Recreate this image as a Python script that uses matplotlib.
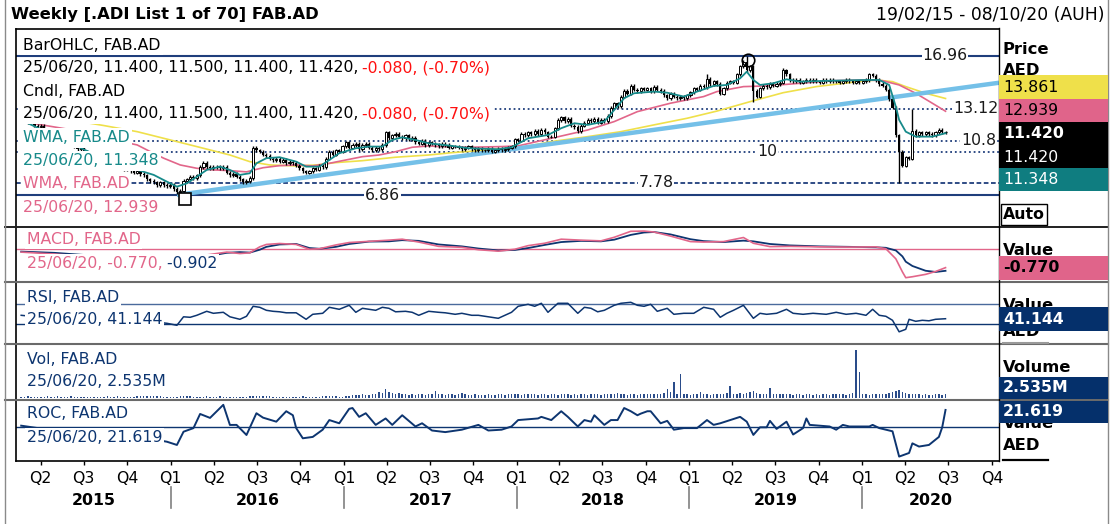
import numpy as np
import matplotlib
matplotlib.use('Agg')
import matplotlib.pyplot as plt
import matplotlib.dates as mdates
import matplotlib.transforms as mtrans
from matplotlib.patches import Rectangle
from matplotlib.lines import Line2D

plt.rcParams['font.family'] = ['DejaVu Sans']

W, H = 1116, 524
FS = 11.3

# ---- data (weekly, first week 19/02/2015) ----
start = '2015-02-19'
closes = [12.4, 12.3, 12.1, 12.2, 11.9, 11.8, 11.9, 11.6, 11.4, 11.5,
          11.2, 11.0, 11.1, 10.8, 10.6, 10.7, 10.4, 10.2, 10.3, 10.0,
          9.8, 9.9, 9.6, 9.4, 9.5, 9.2, 9.3, 9.0, 8.9, 9.1,
          8.8, 8.7, 8.9, 8.6, 8.5, 8.6, 8.4, 8.3, 8.0, 7.9,
          7.8, 7.6, 7.8, 7.6, 7.5, 7.6, 7.3, 7.1, 7.2, 7.9,
          8.0, 8.2, 8.1, 8.3, 8.9, 9.2, 8.9, 8.8, 8.9, 8.9,
          8.8, 8.9, 8.5, 8.3, 8.4, 8.2, 8.0, 7.8, 7.9, 8.1,
          10.3, 10.1, 10.0, 9.8, 9.7, 9.5, 9.4, 9.5, 9.3, 9.4,
          9.2, 9.3, 9.2, 9.0, 8.8, 8.6, 8.5, 8.6, 8.8, 8.7,
          9.0, 8.9, 9.5, 10.0, 9.8, 10.1, 10.0, 10.4, 10.7, 10.3,
          10.5, 10.6, 10.2, 10.5, 10.6, 10.3, 10.1, 10.3, 10.2, 10.5,
          11.4, 11.0, 11.2, 11.3, 11.1, 11.0, 11.2, 10.9, 11.0, 10.7,
          10.6, 10.8, 10.5, 10.7, 10.6, 10.5, 10.4, 10.6, 10.5, 10.3,
          10.4, 10.4, 10.3, 10.2, 10.3, 10.4, 10.2, 10.1, 10.2, 10.1,
          10.1, 10.2, 10.0, 10.1, 10.2, 10.1, 10.2, 10.3, 10.4, 10.9,
          10.8, 11.3, 11.2, 11.4, 11.3, 11.5, 11.3, 11.6, 11.4, 11.1,
          11.1, 11.7, 12.3, 12.5, 12.2, 12.4, 11.9, 11.8, 11.5, 11.9,
          12.1, 12.3, 12.2, 12.4, 12.1, 12.3, 12.2, 12.6, 13.2, 13.5,
          13.3, 14.0, 14.4, 14.2, 14.8, 14.5, 14.4, 14.6, 14.5, 14.6,
          14.4, 14.7, 14.5, 14.4, 14.1, 13.9, 14.2, 14.0, 13.9, 14.0,
          13.9, 14.1, 14.3, 14.6, 14.5, 14.8, 14.7, 15.3, 14.9, 15.1,
          14.9, 14.2, 14.6, 15.0, 15.1, 15.0, 15.6, 16.2, 16.5, 15.9,
          16.2, 14.4, 14.0, 14.6, 14.8, 14.7, 14.9, 14.8, 14.9, 15.0,
          15.9, 15.6, 15.2, 15.1, 15.2, 15.0, 15.1, 15.2, 15.1, 15.2,
          15.1, 15.0, 15.2, 15.1, 15.2, 15.1, 15.1, 15.0, 15.1, 15.2,
          15.1, 15.0, 15.1, 15.0, 15.1, 15.2, 15.6, 15.5, 15.2, 14.9,
          14.8, 14.5, 13.8, 13.2, 11.2, 10.0, 9.0, 9.6, 9.5, 11.5,
          11.2, 11.4, 11.3, 11.4, 11.3, 11.2, 11.4, 11.6, 11.40, 11.42]
hi_wk = [207, 219, 230, 269]
hi_val = [15.6, 16.96, 16.1, 13.12]
lo_wk = [48, 221, 265]
lo_val = [6.86, 13.6, 7.78]

teal_wk = [0, 15, 25, 35, 40, 43, 47, 50, 53, 56, 60, 63, 66, 69, 71, 74, 78, 83, 86, 90,
           93, 96, 101, 105, 109, 112, 115, 119, 123, 130, 135, 144, 148, 153, 159, 163, 167, 171, 176, 179,
           182, 185, 191, 195, 200, 204, 209, 213, 217, 219, 221, 223, 227, 231, 235, 245, 255, 259, 262, 264,
           265, 267, 270, 275, 279]
teal_val = [12.3, 10.6, 9.5, 8.7, 8.33, 7.96, 7.48, 7.72, 8.2, 8.69, 8.93, 8.69, 8.33, 8.45, 9.17, 9.54, 9.61, 9.29, 8.93, 8.93,
            9.41, 9.9, 10.26, 10.38, 10.38, 10.86, 11.05, 10.86, 10.62, 10.43, 10.26, 10.19, 10.33, 10.98, 11.22, 11.71, 12.07, 11.95, 12.19, 13.03,
            13.88, 14.24, 14.36, 14.28, 14.0, 14.36, 14.77, 14.84, 15.32, 15.8, 15.2, 14.84, 14.96, 15.25, 15.08, 15.15, 15.2, 15.2, 14.84, 13.27,
            12.31, 11.46, 11.1, 11.1, 11.348]
pink_wk = [0, 15, 25, 35, 39, 43, 48, 53, 58, 63, 68, 73, 78, 83, 88, 93, 98, 103, 108, 113,
           118, 123, 126, 135, 145, 150, 160, 171, 179, 186, 196, 206, 210, 218, 225, 235, 245, 255, 260, 265,
           270, 275, 279]
pink_val = [12.2, 11.6, 11.0, 10.5, 10.01, 9.54, 9.05, 8.81, 8.69, 8.64, 8.55, 8.85, 9.0, 9.05, 8.98, 9.17, 9.41, 9.65, 9.77, 10.01,
            10.33, 10.43, 10.38, 10.33, 10.38, 10.43, 10.98, 11.58, 12.19, 12.91, 13.52, 14.0, 14.36, 14.72, 14.77, 14.96, 15.15, 15.2, 15.15, 14.84,
            14.24, 13.52, 12.939]
yellow_wk = [0, 15, 25, 35, 43, 53, 63, 69, 75, 83, 89, 95, 103, 113, 123, 130, 141, 151, 160, 171,
             181, 191, 201, 210, 220, 230, 240, 250, 258, 263, 267, 273, 279]
yellow_val = [12.6, 12.3, 11.9, 11.46, 10.98, 10.38, 9.77, 9.29, 9.05, 8.98, 9.05, 9.22, 9.36, 9.61, 9.77, 9.94, 10.14, 10.33, 10.74, 11.1,
              11.46, 11.95, 12.43, 12.95, 13.63, 14.28, 14.72, 15.01, 15.2, 15.08, 14.72, 14.24, 13.861]

levels_solid = [16.96, 6.86]
levels_dotted = [13.12, 10.8, 10]
levels_dashed = [7.78]
trend_dates = ['2016-01-14', '2020-10-16']
trend_vals = [6.88, 15.0]
circle_pt = ('2019-05-04', 16.68)
square_pt = ('2016-02-01', 6.62)

macd_wk = [0, 10, 20, 30, 40, 50, 58, 62, 66, 69,
           72, 74, 78, 83, 87, 90, 95, 99, 105, 111,
           115, 120, 126, 133, 138, 144, 149, 153, 158, 163,
           169, 175, 179, 184, 188, 191, 196, 202, 206, 212,
           218, 221, 226, 232, 241, 250, 258, 261, 264, 266,
           267, 269, 273, 276, 279]
macd_val = [-0.12, -0.2, -0.3, -0.4, -0.45, -0.35, -0.2, -0.12, -0.18, -0.15,
            0.1, 0.2, 0.24, 0.2, 0.0, 0.02, 0.18, 0.28, 0.33, 0.38,
            0.42, 0.3, 0.12, 0.08, -0.02, -0.08, 0.0, 0.15, 0.25, 0.42,
            0.38, 0.35, 0.5, 0.75, 0.76, 0.72, 0.55, 0.32, 0.3, 0.32,
            0.49, 0.25, 0.11, 0.12, 0.1, 0.09, 0.1, 0.02, -0.4, -0.95,
            -1.19, -1.15, -1.05, -0.93, -0.77]
signal_val = [-0.1, -0.15, -0.25, -0.35, -0.42, -0.38, -0.25, -0.15, -0.12, -0.14,
              -0.02, 0.1, 0.2, 0.22, 0.05, 0.02, 0.1, 0.22, 0.32, 0.33,
              0.38, 0.35, 0.2, 0.12, 0.03, -0.05, -0.03, 0.05, 0.18, 0.3,
              0.35, 0.33, 0.4, 0.6, 0.7, 0.72, 0.62, 0.42, 0.34, 0.3,
              0.36, 0.33, 0.22, 0.16, 0.12, 0.1, 0.08, 0.06, -0.05, -0.3,
              -0.52, -0.7, -0.9, -0.95, -0.902]

rsi_wk = [0, 6, 12, 18, 24, 30, 36, 40, 44, 47,
          49, 51, 53, 56, 58, 61, 63, 66, 68, 70,
          72, 74, 76, 78, 80, 83, 86, 88, 91, 93,
          96, 99, 101, 103, 105, 107, 109, 111, 113, 116,
          118, 120, 123, 126, 128, 131, 133, 136, 138, 141,
          144, 146, 148, 150, 153, 155, 157, 159, 162, 165,
          168, 170, 172, 174, 176, 179, 181, 184, 186, 188,
          190, 192, 195, 197, 200, 203, 206, 209, 211, 213,
          215, 218, 221, 223, 225, 228, 231, 233, 236, 239,
          243, 246, 249, 252, 255, 257, 259, 261, 263, 265,
          267, 268, 270, 272, 274, 276, 279]
rsi_val = [48, 44, 41, 43, 39, 37, 36, 35, 32, 28,
           45, 44, 48, 56, 52, 54, 45, 40, 46, 66,
           64, 58, 56, 55, 53, 53, 40, 50, 52, 64,
           60, 68, 54, 62, 60, 58, 64, 62, 55, 56,
           54, 48, 56, 54, 53, 50, 52, 48, 48, 45,
           42, 48, 54, 66, 70, 66, 72, 54, 72, 72,
           52, 64, 62, 55, 58, 68, 72, 74, 68, 66,
           70, 56, 62, 50, 52, 52, 64, 60, 44, 52,
           58, 68, 42, 52, 50, 52, 60, 52, 50, 52,
           50, 54, 50, 52, 48, 60, 48, 46, 38, 15,
           20, 40, 36, 38, 37, 40, 41.144]

volume = [0.5, 0.5, 1.6, 0.5, 0.5, 0.5, 0.5, 0.5, 1.6, 0.5, 0.5, 1.6, 0.5, 0.5, 0.5, 1.6, 0.5, 0.5, 0.5, 0.5,
          0.5, 0.5, 0.5, 0.5, 0.5, 0.5, 1.6, 0.5, 0.5, 1.6, 0.5, 0.5, 0.5, 0.5, 0.5, 1.6, 1.4, 1.6, 1.5, 1.6,
          1.4, 1.6, 1.5, 0.5, 0.5, 0.5, 0.5, 0.5, 1.6, 1.5, 1.6, 1.4, 0.5, 0.5, 0.5, 0.5, 1.6, 0.5, 0.5, 0.5,
          1.6, 0.5, 0.5, 0.5, 0.5, 0.5, 0.5, 0.5, 0.5, 1.6, 1.5, 1.6, 1.4, 1.6, 1.5, 1.6, 0.5, 0.5, 0.5, 0.5,
          0.5, 0.5, 0.5, 0.5, 0.5, 1.6, 0.5, 0.5, 0.5, 0.5, 0.5, 1.6, 1.5, 1.6, 1.4, 1.6, 0.5, 0.5, 1.6, 1.5,
          2.0, 2.2, 2.0, 2.4, 2.1, 2.3, 2.6, 3.0, 4.0, 3.6, 6.0, 4.2, 3.6, 2.8, 3.2, 2.4, 2.8, 2.2, 2.6, 2.3,
          2.4, 2.6, 2.2, 3.0, 2.8, 5.0, 2.6, 2.4, 2.2, 2.6, 2.4, 2.2, 2.8, 3.6, 2.4, 2.2, 2.0, 2.4, 2.2, 2.0,
          2.2, 2.4, 2.0, 2.2, 2.4, 2.6, 2.2, 2.4, 2.6, 2.8, 2.4, 2.2, 2.6, 2.4, 2.8, 2.4, 2.2, 2.6, 2.4, 2.2,
          2.4, 2.6, 2.2, 2.8, 2.4, 2.6, 2.2, 2.4, 2.2, 2.6, 2.4, 2.2, 2.6, 2.8, 2.4, 2.2, 2.4, 2.6, 2.8, 2.4,
          3.6, 2.6, 2.4, 2.2, 2.6, 2.4, 2.2, 2.6, 2.4, 2.8, 2.4, 2.6, 2.8, 3.0, 3.4, 6.5, 4.0, 11.5, 2.6, 17.0,
          3.0, 2.6, 2.2, 2.4, 2.8, 4.3, 2.6, 2.4, 2.2, 2.6, 2.4, 2.8, 3.0, 3.6, 8.5, 3.0, 2.8, 3.4, 3.0, 3.6,
          4.0, 5.0, 3.4, 2.8, 2.6, 3.0, 7.0, 3.0, 2.6, 2.8, 2.4, 2.6, 2.4, 2.2, 2.6, 2.4, 2.2, 2.4, 2.6, 2.2,
          2.4, 2.2, 2.6, 2.4, 2.2, 2.4, 2.8, 2.6, 2.4, 2.2, 2.6, 3.4, 34.0, 18.0, 2.6, 2.4, 2.2, 2.8, 2.6, 2.4,
          2.6, 3.0, 3.4, 3.8, 4.6, 5.8, 4.4, 3.2, 3.0, 2.6, 2.4, 2.6, 2.2, 2.4, 2.0, 2.2, 2.4, 2.6, 2.2, 2.535]

roc_wk = [0, 10, 20, 30, 40, 44, 47, 49, 52, 54,
          57, 61, 63, 65, 68, 71, 73, 77, 80, 82,
          83, 85, 88, 91, 93, 96, 99, 100, 102, 104,
          107, 110, 112, 115, 119, 121, 124, 128, 133, 138,
          141, 145, 148, 150, 156, 157, 160, 163, 165, 168,
          170, 172, 173, 175, 176, 178, 180, 182, 184, 186,
          187, 189, 190, 193, 195, 197, 200, 204, 207, 209,
          211, 214, 217, 219, 221, 223, 225, 226, 228, 231,
          233, 236, 237, 238, 244, 246, 248, 250, 256, 257,
          259, 263, 265, 268, 269, 271, 274, 277, 278, 279]
roc_val = [2, -4, -8, -12, -15, -18, -22, -5.5, -1, 16.6,
           11.7, 28, 2.9, 3, -9.6, 17.5, 12, 7, 20, 15,
           -1, -13.7, -12, -3, 9, 5, 23, 24, 13, 17.5,
           3, 11, 3, 15, 1, 5, -4, -6, -3, 3,
           -4, -3, 1, 9, 11, 13, 9, 20, 13, 1,
           9, 7, 15, 7, 3, 9, 9, 24, 20, 15,
           17, 20, 20, 5, 8, -3, -1, -1, 9, 3,
           5, 9, 13, 7, -9.5, 0, 0, 8, -2, 7,
           -9, -1, 11, 3, 1, -3, 3, 1, 1, 3,
           -1, -5, -36.5, -32, -20, -24, -22, -12, 0, 21.619]

# ---- colours ----
NAVY = '#0d3570'
TEAL = '#178a8a'
PINK = '#e2668a'
YEL = '#efe04a'
TREND = '#74c0e8'
LVL = '#1f3e7c'

t0 = mdates.date2num(np.datetime64(start))
def wk(idx):
    return t0 + 7 * np.asarray(idx, dtype=float)

def dn(s):
    return mdates.date2num(np.datetime64(s))

c = np.array(closes)
o = np.r_[c[0], c[:-1]]
hi = np.maximum(o, c) + 0.12
lo = np.minimum(o, c) - 0.12
hi[hi_wk] = hi_val
lo[lo_wk] = lo_val
tw = wk(np.arange(len(c)))

fig = plt.figure(figsize=(W / 100, H / 100), dpi=100)

def box(x0, y0, x1, y1):
    return [x0 / W, 1 - y1 / H, (x1 - x0) / W, (y1 - y0) / H]

ax_p = fig.add_axes(box(16, 29, 999, 227))
ax_m = fig.add_axes(box(16, 227, 999, 282))
ax_r = fig.add_axes(box(16, 282, 999, 344))
ax_v = fig.add_axes(box(16, 344, 999, 400))
ax_c = fig.add_axes(box(16, 400, 999, 461))
xl = (dn('2015-02-08'), dn('2020-10-16'))
for ax in (ax_p, ax_m, ax_r, ax_v, ax_c):
    ax.set_xlim(*xl)
    for s in ax.spines.values():
        s.set_visible(False)
    ax.spines['left'].set_visible(True)
    ax.spines['left'].set_linewidth(1.2)
    ax.tick_params(left=False, labelleft=False, bottom=False, labelbottom=False)

# price panel
ax_p.set_ylim(4.56, 18.89)
for lv in levels_solid:
    ax_p.axhline(lv, color=LVL, lw=1.5, zorder=1)
for lv in levels_dotted:
    ax_p.axhline(lv, color=LVL, lw=1.3, ls=(0, (1, 1.6)), zorder=1)
for lv in levels_dashed:
    ax_p.axhline(lv, color=LVL, lw=1.3, ls=(0, (2.6, 1.4)), zorder=1)
bt = mtrans.blended_transform_factory(ax_p.transAxes, ax_p.transData)
lbl_pos = {16.96: (0.945, 'center'), 13.12: (0.999, 'right'), 10.8: (0.997, 'right'),
           10: (0.764, 'center'), 7.78: (0.651, 'center'), 6.86: (0.373, 'center')}
for lv, (xf, ha) in lbl_pos.items():
    ax_p.text(xf, lv, f'{lv:g}', transform=bt, ha=ha, va='center', fontsize=FS,
              color='#1a1a1a', zorder=6, bbox=dict(fc='white', ec='none', pad=0.6))

ax_p.plot([dn(d) for d in trend_dates], trend_vals, color=TREND, lw=3.2, zorder=3,
          solid_capstyle='butt')
ax_p.plot(wk(yellow_wk), yellow_val, color=YEL, lw=1.2, zorder=2)
ax_p.plot(wk(pink_wk), pink_val, color=PINK, lw=1.2, zorder=2)
ax_p.vlines(tw, lo, hi, color='black', lw=1.0, zorder=4)
up = c >= o
ax_p.bar(tw[up], (c - o)[up], bottom=o[up], width=4.6, facecolor='white',
         edgecolor='black', lw=0.7, zorder=5)
ax_p.bar(tw[~up], (o - c)[~up], bottom=c[~up], width=4.6, color='black', lw=0, zorder=5)
ax_p.plot(wk(teal_wk), teal_val, color=TEAL, lw=1.3, zorder=6)
ax_p.plot(dn(circle_pt[0]), circle_pt[1], 'o', ms=9, mfc='none', mec='black', mew=1.2, zorder=7)
ax_p.plot(dn(square_pt[0]), square_pt[1], 's', ms=8, mfc='white', mec='black', mew=1.2, zorder=7)

# MACD
ax_m.set_ylim(-1.37, 0.93)
ax_m.axhline(0, color=PINK, lw=1)
ax_m.plot(wk(macd_wk), signal_val, color=NAVY, lw=1.3)
ax_m.plot(wk(macd_wk), macd_val, color=PINK, lw=1.2)

# RSI
ax_r.set_ylim(-9.4, 114.6)
ax_r.axhline(70, color='#4a6a9c', lw=1)
ax_r.axhline(30, color=NAVY, lw=1)
ax_r.plot(wk(rsi_wk), rsi_val, color=NAVY, lw=1.1)

# Volume
ax_v.set_ylim(-1.5, 38)
ax_v.bar(tw, volume, width=3.0, color='#2a4c8a', lw=0)

# ROC
ax_c.set_ylim(-42, 34)
ax_c.axhline(0, color=NAVY, lw=1)
ax_c.plot(wk(roc_wk), roc_val, color=NAVY, lw=1.4)
qt = []
ql = []
for y in range(2015, 2021):
    for q, m in ((1, 1), (2, 4), (3, 7), (4, 10)):
        d = dn(f'{y}-{m:02d}-01')
        if xl[0] < d < xl[1]:
            qt.append(d)
            ql.append(f'Q{q}')
ax_c.set_xticks(qt)
ax_c.set_xticklabels(ql, fontsize=FS)
ax_c.tick_params(axis='x', bottom=True, labelbottom=True, length=3, width=1, pad=4)
bx = mtrans.blended_transform_factory(ax_c.transData, ax_c.transAxes)
edges = [xl[0]] + [dn(f'{y}-01-01') for y in range(2016, 2021)] + [xl[1]]
for k, y in enumerate(range(2015, 2021)):
    ax_c.text((edges[k] + edges[k + 1]) / 2, -0.64, str(y), transform=bx, ha='center',
              va='center', fontsize=FS, fontweight='bold')
for e in edges[1:-1]:
    ax_c.plot([e, e], [-0.43, -0.77], transform=bx, color='#808080', lw=1.2, clip_on=False)

# ---- frame lines ----
def hline(y, x0, x1, color, lw):
    fig.add_artist(Line2D([x0 / W, x1 / W], [1 - y / H] * 2, transform=fig.transFigure,
                          color=color, lw=lw, zorder=8))

def vline(x, y0, y1, color, lw):
    fig.add_artist(Line2D([x / W] * 2, [1 - y0 / H, 1 - y1 / H], transform=fig.transFigure,
                          color=color, lw=lw, zorder=8))

hline(28.5, 16, 999, 'black', 1.2)
hline(227, 5, 1108, '#202020', 1.4)
for yy in (282, 344, 400):
    hline(yy, 5, 1108, '#6a6a6a', 1.5)
hline(461, 16, 999, 'black', 1.2)
vline(999, 28, 461, 'black', 1.0)
vline(5, 0, 524, '#8a8a8a', 1.0)
vline(1108, 0, 524, '#8a8a8a', 1.0)

# ---- texts ----
def ftext(x, y, s, color='black', bg=True, z=9, pad=2.0, **kw):
    kw.setdefault('fontsize', FS)
    bb = dict(fc='white', ec='none', pad=pad) if bg else None
    return fig.text(x / W, 1 - y / H, s, color=color, ha=kw.pop('ha', 'left'), va='center',
                    bbox=bb, zorder=z, **kw)

renderer = fig.canvas.get_renderer()

def two_part(x, y, s1, c1, s2, c2, pad=2.0):
    t = ftext(x, y, s1, c1, pad=pad)
    ext = t.get_window_extent(renderer=renderer)
    # second part sits under the first so its box does not hide the comma
    ftext(ext.x1 - 1, y, s2, c2, pad=pad, z=8.9)

ftext(11, 15, 'Weekly [.ADI List 1 of 70] FAB.AD', bg=False, fontsize=11.8, fontweight='bold')
ftext(1104, 15, '19/02/15 - 08/10/20 (AUH)', bg=False, fontsize=12.4, ha='right')

row = '25/06/20, 11.400, 11.500, 11.400, 11.420,'
ftext(23, 45, 'BarOHLC, FAB.AD')
two_part(23, 68, row, 'black', ' -0.080, (-0.70%)', '#ff1010')
ftext(23, 91, 'Cndl, FAB.AD')
two_part(23, 114, row, 'black', ' -0.080, (-0.70%)', '#ff1010')
ftext(23, 138, 'WMA, FAB.AD', TEAL)
ftext(23, 161, '25/06/20, 11.348', TEAL)
ftext(23, 184, 'WMA, FAB.AD', PINK, pad=0.8)
ftext(23, 207, '25/06/20, 12.939', PINK, pad=0.8)

ftext(27, 240, 'MACD, FAB.AD', PINK, pad=1.2)
two_part(27, 263, '25/06/20, -0.770,', PINK, ' -0.902', NAVY, pad=1.2)
ftext(27, 298, 'RSI, FAB.AD', NAVY, pad=1.2)
ftext(27, 320, '25/06/20, 41.144', NAVY, pad=1.2)
ftext(27, 359, 'Vol, FAB.AD', NAVY, pad=1.2)
ftext(27, 382, '25/06/20, 2.535M', NAVY, pad=1.2)
ftext(27, 414, 'ROC, FAB.AD', NAVY, pad=1.2)
ftext(27, 437, '25/06/20, 21.619', NAVY, pad=1.2)

# right value column
def rect(y0, y1, color, x0=999.5, x1=1108, z=10, **kw):
    fig.add_artist(Rectangle((x0 / W, 1 - y1 / H), (x1 - x0) / W, (y1 - y0) / H,
                             transform=fig.transFigure, fc=color, zorder=z, **kw))

RX = 1003
ftext(RX, 49, 'Price', bg=False, z=9, fontweight='bold', fontsize=11.8)
ftext(RX, 70, 'AED', bg=False, z=9, fontweight='bold', fontsize=11.8)
rect(75, 99, YEL)
ftext(RX, 87, '13.861', bg=False, z=11)
rect(99, 122, '#e0648a')
ftext(RX, 110.5, '12.939', bg=False, z=11)
rect(122, 168, 'black')
ftext(RX, 134, '11.420', 'white', bg=False, z=11, fontweight='bold')
ftext(RX, 157, '11.420', 'white', bg=False, z=11)
rect(168, 191, '#0f7d80')
ftext(RX, 179.5, '11.348', 'white', bg=False, z=11)
rect(204, 225, 'white', x0=1001, x1=1047, ec='black', lw=1.0)
ftext(1024, 214.5, 'Auto', bg=False, z=11, fontweight='bold', ha='center')

ftext(RX, 250, 'Value', bg=False, fontweight='bold', fontsize=11.8)
ftext(RX, 276, 'AED', bg=False, fontweight='bold', fontsize=11.8)
rect(256, 280, '#e0648a')
ftext(RX, 268, '-0.770', bg=False, z=11, fontweight='bold')

ftext(RX, 305, 'Value', bg=False, fontweight='bold', fontsize=11.8)
ftext(RX, 332, 'AED', bg=False, fontweight='bold', fontsize=11.8)
rect(307, 331, '#05306b')
ftext(RX, 319, '41.144', 'white', bg=False, z=11, fontweight='bold')
hline(342.5, 1003, 1048, '#9a9a9a', 1.5)

ftext(RX, 368, 'Volume', bg=False, fontweight='bold', fontsize=11.8)
rect(377, 399, '#05306b')
ftext(RX, 388, '2.535M', 'white', bg=False, z=11, fontweight='bold')

ftext(RX, 424, 'Value', bg=False, fontweight='bold', fontsize=11.8)
rect(401, 423, '#05306b')
ftext(RX, 412, '21.619', 'white', bg=False, z=11, fontweight='bold')
ftext(RX, 446, 'AED', bg=False, fontweight='bold', fontsize=11.8)
hline(459.5, 1003, 1048, 'black', 1.6)

fig.savefig('out.png', dpi=100)
